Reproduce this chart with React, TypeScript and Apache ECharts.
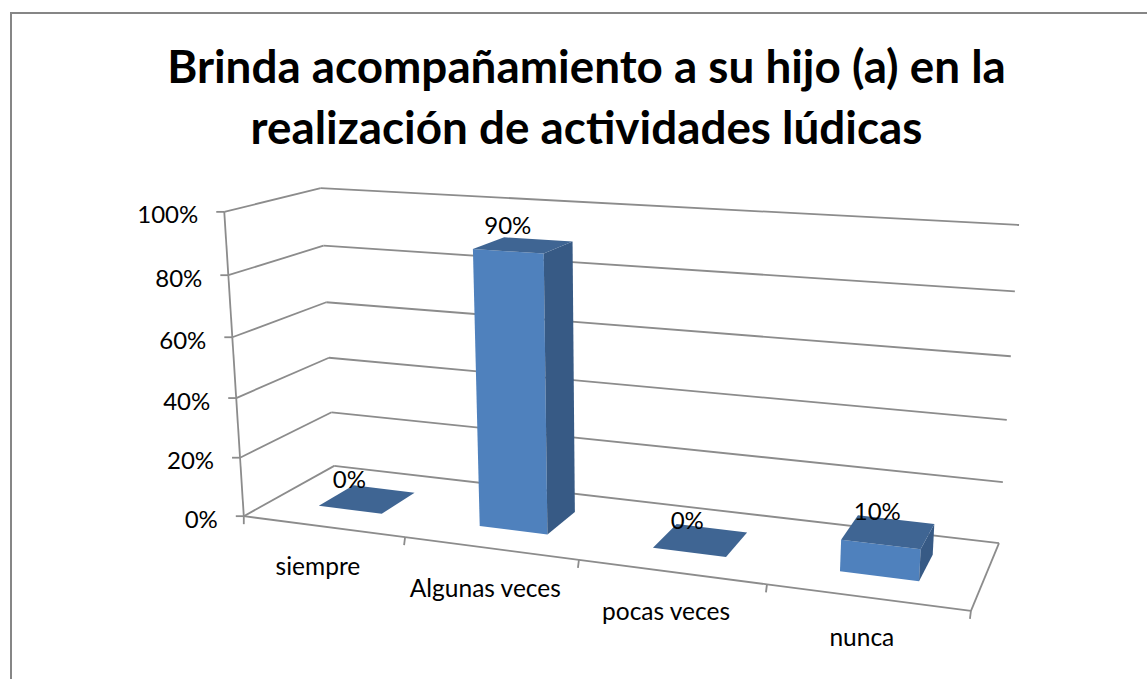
import React, { useEffect, useRef } from "react";
import * as echarts from "echarts";

const titleLines = ["Brinda acompañamiento a su hijo (a) en la", "realización de actividades lúdicas"];
const categories = ["siempre", "Algunas veces", "pocas veces", "nunca"];
const values = [0, 90, 0, 10];
const valueLabels = ["0%", "90%", "0%", "10%"];
const ticks = [0, 20, 40, 60, 80, 100];
const tickLabels = ["0%", "20%", "40%", "60%", "80%", "100%"];

const W = 1147;
const H = 679;
const FONT = "Lato, Carlito, Calibri, sans-serif";
const GRID = "#8c8c8c";

// camera fit: [u, depth, height] -> pixel, measured on the reference box corners
const corners: number[][] = [
  [0, 0, 0, 244, 516],
  [1, 0, 0, 971, 611],
  [0, 1, 0, 334, 466],
  [1, 1, 0, 999, 543],
  [0, 0, 1, 224, 212],
  [0, 1, 1, 321, 188],
  [1, 1, 1, 1019, 225],
];

function solveCamera(): number[] {
  const rows: number[][] = [];
  for (const [u, w, v, x, y] of corners) {
    rows.push([u, w, v, 1, 0, 0, 0, 0, -x * u, -x * w, -x * v, x]);
    rows.push([0, 0, 0, 0, u, w, v, 1, -y * u, -y * w, -y * v, y]);
  }
  const n = 11;
  const m: number[][] = [];
  for (let i = 0; i < n; i++) {
    const r: number[] = [];
    for (let j = 0; j <= n; j++) {
      let s = 0;
      for (const row of rows) s += row[i] * row[j];
      r.push(s);
    }
    m.push(r);
  }
  for (let i = 0; i < n; i++) {
    let p = i;
    for (let k = i + 1; k < n; k++) if (Math.abs(m[k][i]) > Math.abs(m[p][i])) p = k;
    [m[i], m[p]] = [m[p], m[i]];
    for (let k = 0; k < n; k++) {
      if (k === i) continue;
      const f = m[k][i] / m[i][i];
      for (let j = i; j <= n; j++) m[k][j] -= f * m[i][j];
    }
  }
  return m.map((r, i) => r[n] / r[i]);
}
const cam = solveCamera();
function project(u: number, w: number, v: number): number[] {
  const d = cam[8] * u + cam[9] * w + cam[10] * v + 1;
  return [
    (cam[0] * u + cam[1] * w + cam[2] * v + cam[3]) / d,
    (cam[4] * u + cam[5] * w + cam[6] * v + cam[7]) / d,
  ];
}

const BAR_MARGIN = 0.3;
const DEPTH_FROM = 0.3;
const DEPTH_TO = 0.7;

export default function App() {
  const ref = useRef<HTMLDivElement>(null);
  useEffect(() => {
    if (!ref.current) return;
    const chart = echarts.init(ref.current, undefined, { renderer: "svg" });

    // read the library's scales: the hidden grid fills the canvas, so a coord is a fraction of it
    const toUV = (api: any, cat: number, val: number) => {
      const c = api.coord([cat, val]);
      const band = api.size([1, 0])[0];
      return { u: c[0] / W, halfBand: band / 2 / W, v: 1 - c[1] / H };
    };
    const line = (a: number[], b: number[]) => ({
      type: "line",
      shape: { x1: a[0], y1: a[1], x2: b[0], y2: b[1] },
      style: { stroke: GRID, lineWidth: 1.8, fill: "none" },
    });
    const poly = (pts: number[][], fill: string) => ({
      type: "polygon",
      shape: { points: pts },
      style: { fill },
    });
    const text = (x: number, y: number, t: string, size: number, align: string) => ({
      type: "text",
      x,
      y,
      style: { text: t, font: `${size}px ${FONT}`, fill: "#000", align, verticalAlign: "middle" },
    });

    const renderWall = (_: any, api: any) => {
      const val = api.value(1);
      const i = ticks.indexOf(val);
      const { v } = toUV(api, 0, val);
      const a = project(0, 0, v);
      const b = project(0, 1, v);
      const c = project(1, 1, v);
      const children: any[] = [line(a, b), line(b, c), line([a[0] - 8, a[1]], a)];
      children.push(text(a[0] - 26, a[1] + 2, tickLabels[i], 24, "right"));
      if (i > 0) {
        const lower = project(0, 0, toUV(api, 0, ticks[i - 1]).v);
        children.push(line(lower, a));
      }
      return { type: "group", children };
    };

    const renderFloor = (_: any, api: any) => {
      const i = api.value(0);
      const { u, halfBand } = toUV(api, i, 0);
      const left = project(u - halfBand, 0, 0);
      const right = project(u + halfBand, 0, 0);
      const mid = project(u, 0, 0);
      const children: any[] = [
        line(left, right),
        line(right, [right[0] - 1, right[1] + 8]),
        text(mid[0] - 5, mid[1] + 39, categories[i], 24.5, "center"),
      ];
      if (i === 0) children.push(line(left, [left[0], left[1] + 8]));
      if (i === categories.length - 1) children.push(line(right, project(1, 1, 0)));
      return { type: "group", children };
    };

    const renderBar = (_: any, api: any) => {
      const i = api.value(0);
      const val = api.value(1);
      const { u, halfBand, v } = toUV(api, i, val);
      const u0 = u - halfBand + BAR_MARGIN * 2 * halfBand;
      const u1 = u + halfBand - BAR_MARGIN * 2 * halfBand;
      const fbl = project(u0, DEPTH_FROM, 0);
      const fbr = project(u1, DEPTH_FROM, 0);
      const bbr = project(u1, DEPTH_TO, 0);
      const ftl = project(u0, DEPTH_FROM, v);
      const ftr = project(u1, DEPTH_FROM, v);
      const btr = project(u1, DEPTH_TO, v);
      const btl = project(u0, DEPTH_TO, v);
      const centre = project(u, 0.5, v);
      const children: any[] = [];
      if (val > 0) {
        children.push(poly([fbl, fbr, ftr, ftl], "#4f81bd"));
        children.push(poly([fbr, bbr, btr, ftr], "#375a85"));
      }
      children.push(poly([ftl, ftr, btr, btl], "#3f6593"));
      children.push(text(centre[0] - 19 + 9 * u, centre[1] - 21, valueLabels[i], 24, "center"));
      return { type: "group", children };
    };

    chart.setOption({
      animation: false,
      backgroundColor: "#fff",
      grid: { left: 0, top: 0, width: W, height: H },
      xAxis: { type: "category", data: categories, show: false, boundaryGap: true },
      yAxis: { type: "value", min: 0, max: 100, interval: 20, show: false },
      graphic: [
        {
          type: "rect",
          shape: { x: 11, y: 13, width: W + 20, height: H + 20 },
          style: { fill: "none", stroke: "#868686", lineWidth: 2 },
          silent: true,
        },
        { type: "text", x: 586.5, y: 65, style: { text: titleLines[0], font: `bold 45.8px ${FONT}`, fill: "#000", align: "center", verticalAlign: "middle" } },
        { type: "text", x: 586.5, y: 126, style: { text: titleLines[1], font: `bold 45.8px ${FONT}`, fill: "#000", align: "center", verticalAlign: "middle" } },
      ],
      series: [
        {
          type: "custom",
          name: "wall",
          renderItem: renderWall,
          data: ticks.map((t) => [0, t]),
          encode: { x: 0, y: 1 },
          silent: true,
          clip: false,
        },
        {
          type: "custom",
          name: "floor",
          renderItem: renderFloor,
          data: categories.map((_, i) => [i, 0]),
          encode: { x: 0, y: 1 },
          silent: true,
          clip: false,
        },
        {
          type: "custom",
          name: "bars",
          renderItem: renderBar,
          data: values.map((v, i) => [i, v]),
          encode: { x: 0, y: 1 },
          silent: true,
          clip: false,
        },
      ],
    });
    return () => chart.dispose();
  }, []);
  return <div ref={ref} style={{ position: "absolute", left: 0, top: 0, width: W, height: H }} />;
}
